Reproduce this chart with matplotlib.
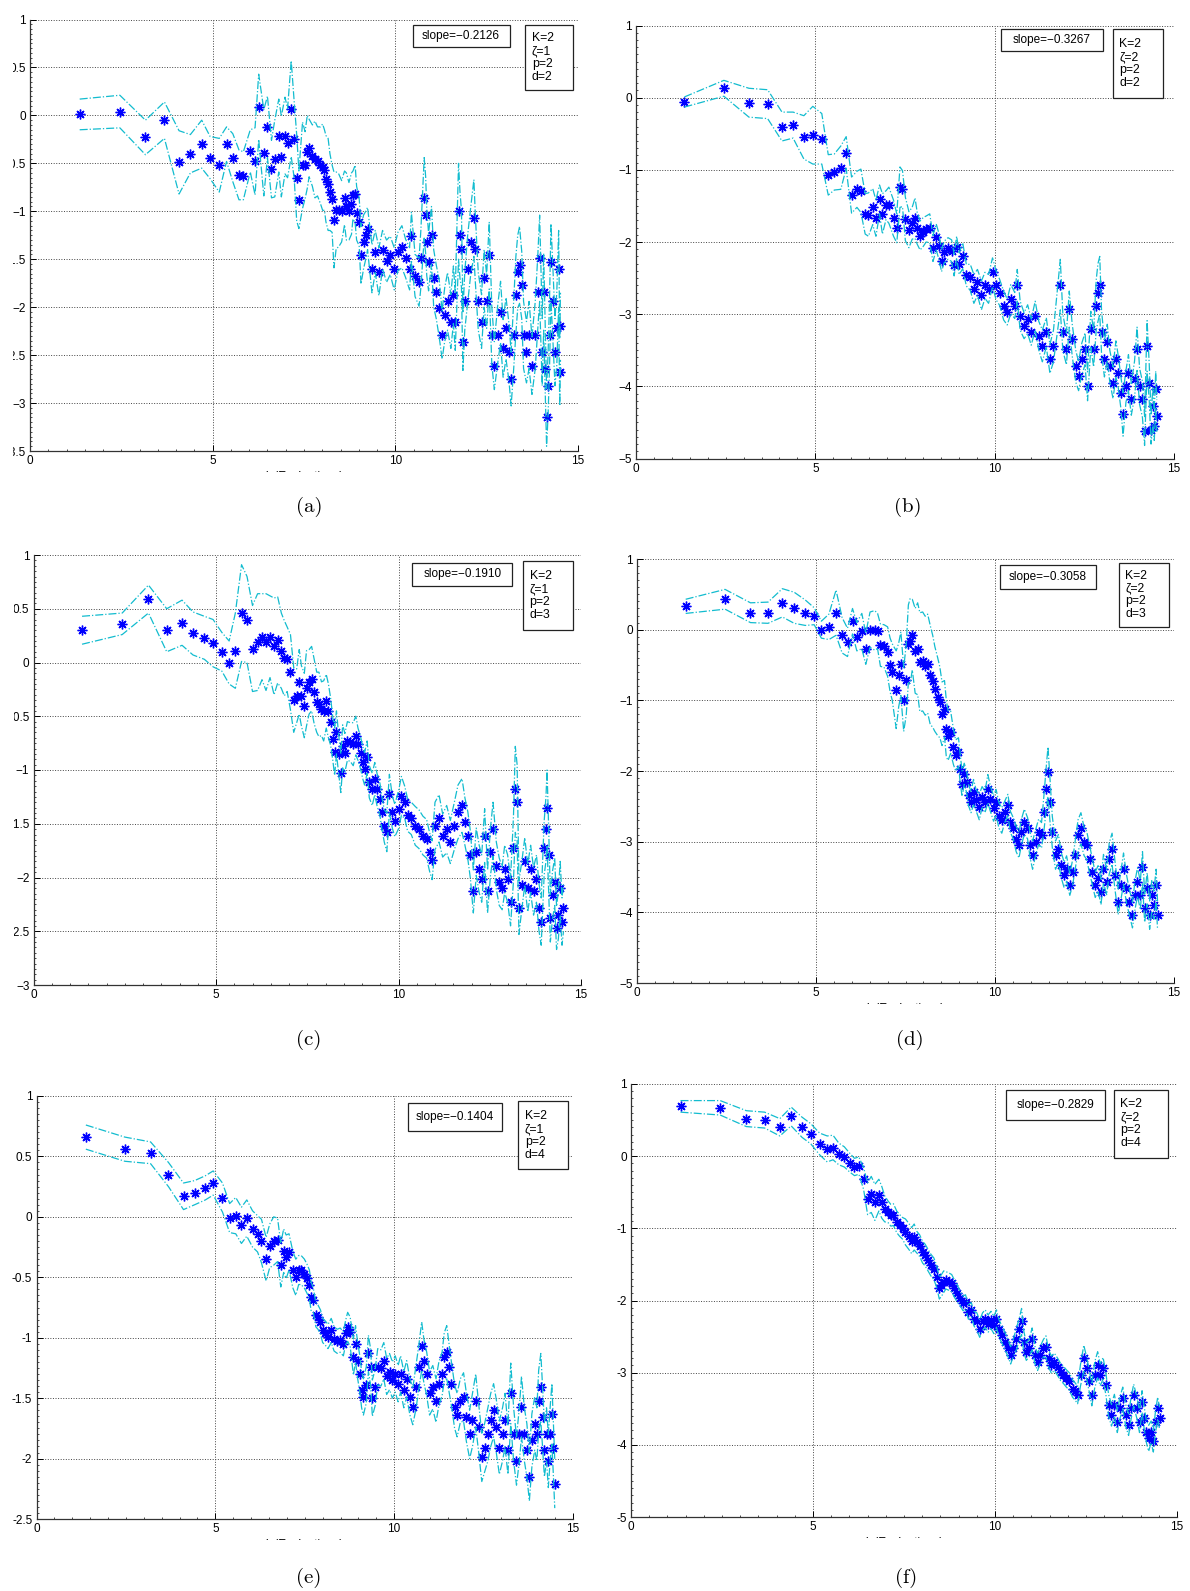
# %%
import numpy as np
import matplotlib
matplotlib.use('Agg')
import matplotlib.pyplot as plt
from matplotlib.patches import Rectangle
from matplotlib.ticker import MultipleLocator, AutoMinorLocator, FuncFormatter

plt.rcParams['font.family'] = ['Liberation Sans', 'DejaVu Sans']

# %% data: x = ln(Evaluations), y = mean, e = half-width of band
xa = [1.36, 2.46, 3.16, 3.68, 4.08, 4.39, 4.70, 4.93, 5.18, 5.38,
      5.55, 5.72, 5.84, 6.03, 6.16, 6.26, 6.40, 6.50, 6.61, 6.70,
      6.81, 6.88, 6.98, 7.05, 7.15, 7.23, 7.30, 7.36, 7.46, 7.53,
      7.59, 7.64, 7.73, 7.80, 7.87, 7.95, 8.01, 8.06, 8.10, 8.16,
      8.21, 8.27, 8.32, 8.38, 8.45, 8.53, 8.61, 8.66, 8.73, 8.80,
      8.84, 8.90, 8.94, 9.01, 9.06, 9.13, 9.19, 9.24, 9.36, 9.45,
      9.55, 9.65, 9.76, 9.86, 9.97, 10.07, 10.18, 10.28, 10.39, 10.44,
      10.54, 10.65, 10.70, 10.79, 10.83, 10.86, 10.91, 10.99, 11.05, 11.12,
      11.20, 11.28, 11.35, 11.43, 11.52, 11.59, 11.64, 11.73, 11.77, 11.81,
      11.85, 11.90, 11.98, 12.06, 12.15, 12.19, 12.27, 12.36, 12.43, 12.50,
      12.57, 12.64, 12.71, 12.80, 12.88, 12.95, 13.03, 13.11, 13.17, 13.24,
      13.30, 13.35, 13.40, 13.46, 13.51, 13.59, 13.66, 13.74, 13.83, 13.90,
      13.95, 14.02, 14.06, 14.11, 14.14, 14.18, 14.22, 14.26, 14.31, 14.37,
      14.42, 14.47, 14.50, 14.52]
ya = [0.01, 0.04, -0.23, -0.05, -0.49, -0.40, -0.30, -0.44, -0.52, -0.30,
      -0.44, -0.62, -0.63, -0.37, -0.48, 0.09, -0.39, -0.12, -0.56, -0.45,
      -0.21, -0.43, -0.21, -0.29, 0.07, -0.25, -0.65, -0.88, -0.52, -0.52,
      -0.38, -0.34, -0.42, -0.46, -0.48, -0.52, -0.54, -0.57, -0.66, -0.72,
      -0.80, -0.87, -1.09, -0.99, -0.99, -1.00, -0.86, -0.95, -1.00, -0.92,
      -0.83, -0.82, -1.02, -1.11, -1.46, -1.32, -1.25, -1.18, -1.60, -1.42,
      -1.63, -1.40, -1.52, -1.46, -1.60, -1.42, -1.37, -1.49, -1.60, -1.26,
      -1.67, -1.74, -1.49, -0.86, -1.04, -1.32, -1.53, -1.25, -1.70, -1.84,
      -2.01, -2.29, -2.08, -1.94, -2.15, -1.87, -2.15, -1.00, -1.25, -1.39,
      -2.36, -1.94, -1.60, -1.32, -1.07, -1.39, -1.94, -2.15, -1.70, -1.94,
      -1.46, -2.29, -2.61, -2.29, -2.05, -2.43, -2.22, -2.47, -2.75, -2.29,
      -1.87, -1.63, -1.56, -1.77, -2.29, -2.47, -2.29, -2.61, -2.29, -1.84,
      -1.49, -2.47, -1.84, -2.64, -3.15, -2.82, -2.29, -1.53, -1.94, -2.47,
      -2.22, -1.60, -2.68, -2.20]
ea = [0.16, 0.17, 0.18, 0.19, 0.33, 0.20, 0.25, 0.22, 0.28, 0.18,
      0.25, 0.26, 0.25, 0.22, 0.35, 0.34, 0.45, 0.32, 0.30, 0.40,
      0.38, 0.42, 0.40, 0.36, 0.50, 0.40, 0.45, 0.30, 0.45, 0.35,
      0.38, 0.30, 0.32, 0.40, 0.36, 0.40, 0.45, 0.42, 0.45, 0.48,
      0.40, 0.35, 0.50, 0.40, 0.38, 0.32, 0.28, 0.35, 0.30, 0.32,
      0.25, 0.30, 0.28, 0.25, 0.30, 0.28, 0.25, 0.22, 0.25, 0.22,
      0.25, 0.20, 0.22, 0.20, 0.22, 0.20, 0.22, 0.20, 0.22, 0.25,
      0.22, 0.25, 0.30, 0.42, 0.40, 0.35, 0.30, 0.30, 0.30, 0.28,
      0.30, 0.25, 0.28, 0.30, 0.28, 0.30, 0.30, 0.50, 0.45, 0.40,
      0.30, 0.30, 0.35, 0.35, 0.40, 0.35, 0.30, 0.28, 0.30, 0.28,
      0.35, 0.30, 0.25, 0.30, 0.32, 0.30, 0.32, 0.30, 0.28, 0.35,
      0.40, 0.38, 0.40, 0.35, 0.35, 0.32, 0.35, 0.30, 0.35, 0.38,
      0.45, 0.35, 0.40, 0.35, 0.30, 0.32, 0.35, 0.40, 0.38, 0.35,
      0.38, 0.40, 0.35, 0.35]

xb = [1.35, 2.45, 3.15, 3.67, 4.07, 4.38, 4.68, 4.93, 5.18, 5.36,
      5.53, 5.71, 5.86, 6.01, 6.16, 6.27, 6.39, 6.48, 6.60, 6.69,
      6.79, 6.87, 6.97, 7.05, 7.18, 7.27, 7.36, 7.43, 7.51, 7.61,
      7.70, 7.78, 7.84, 7.92, 8.01, 8.09, 8.19, 8.28, 8.37, 8.44,
      8.52, 8.59, 8.70, 8.80, 8.87, 8.94, 9.01, 9.11, 9.21, 9.32,
      9.42, 9.52, 9.63, 9.73, 9.83, 9.94, 10.04, 10.14, 10.25, 10.35,
      10.45, 10.56, 10.63, 10.71, 10.82, 10.92, 11.02, 11.13, 11.23, 11.33,
      11.44, 11.54, 11.64, 11.83, 11.90, 12.00, 12.08, 12.16, 12.26, 12.34,
      12.43, 12.52, 12.59, 12.68, 12.76, 12.83, 12.88, 12.93, 12.98, 13.06,
      13.14, 13.21, 13.30, 13.38, 13.45, 13.52, 13.58, 13.66, 13.73, 13.81,
      13.90, 13.97, 14.04, 14.12, 14.18, 14.25, 14.31, 14.36, 14.41, 14.45,
      14.49, 14.52]
yb = [-0.06, 0.13, -0.07, -0.09, -0.40, -0.38, -0.55, -0.52, -0.57, -1.07,
      -1.03, -0.97, -0.76, -1.35, -1.27, -1.29, -1.61, -1.62, -1.51, -1.67,
      -1.41, -1.61, -1.49, -1.49, -1.67, -1.81, -1.24, -1.26, -1.68, -1.83,
      -1.74, -1.67, -1.81, -1.91, -1.86, -1.82, -1.81, -2.09, -1.93, -2.05,
      -2.26, -2.14, -2.09, -2.12, -2.32, -2.07, -2.30, -2.19, -2.46, -2.49,
      -2.65, -2.56, -2.74, -2.60, -2.65, -2.42, -2.60, -2.70, -2.88, -2.97,
      -2.79, -2.88, -2.60, -3.02, -3.16, -3.07, -3.25, -3.02, -3.30, -3.44,
      -3.25, -3.62, -3.44, -2.59, -3.25, -3.48, -2.93, -3.35, -3.72, -3.86,
      -3.62, -3.48, -4.00, -3.21, -3.48, -2.88, -2.70, -2.60, -3.25, -3.62,
      -3.39, -3.72, -3.95, -3.62, -3.81, -4.09, -4.39, -4.00, -3.81, -4.18,
      -3.90, -3.48, -4.00, -4.18, -4.62, -3.44, -3.95, -4.60, -4.27, -4.55,
      -4.04, -4.41]
eb = [0.07, 0.11, 0.20, 0.20, 0.20, 0.18, 0.30, 0.40, 0.35, 0.28,
      0.25, 0.30, 0.22, 0.25, 0.25, 0.30, 0.28, 0.30, 0.25, 0.25,
      0.20, 0.28, 0.20, 0.25, 0.25, 0.20, 0.28, 0.25, 0.30, 0.25,
      0.22, 0.28, 0.22, 0.20, 0.20, 0.18, 0.20, 0.18, 0.18, 0.18,
      0.15, 0.15, 0.15, 0.15, 0.15, 0.15, 0.15, 0.18, 0.15, 0.18,
      0.20, 0.18, 0.20, 0.18, 0.20, 0.20, 0.20, 0.18, 0.20, 0.18,
      0.20, 0.18, 0.22, 0.20, 0.18, 0.20, 0.18, 0.20, 0.20, 0.22,
      0.20, 0.20, 0.22, 0.35, 0.25, 0.22, 0.25, 0.22, 0.22, 0.20,
      0.22, 0.22, 0.20, 0.25, 0.25, 0.35, 0.40, 0.40, 0.30, 0.25,
      0.25, 0.22, 0.22, 0.25, 0.22, 0.22, 0.30, 0.22, 0.25, 0.22,
      0.25, 0.30, 0.25, 0.25, 0.20, 0.35, 0.25, 0.20, 0.25, 0.20,
      0.25, 0.22]

xc = [1.33, 2.43, 3.15, 3.65, 4.07, 4.37, 4.68, 4.92, 5.16, 5.36,
      5.53, 5.70, 5.85, 6.00, 6.14, 6.26, 6.37, 6.48, 6.59, 6.69,
      6.79, 6.87, 6.95, 7.04, 7.13, 7.21, 7.28, 7.34, 7.42, 7.48,
      7.55, 7.62, 7.69, 7.76, 7.82, 7.89, 7.95, 8.02, 8.08, 8.14,
      8.20, 8.25, 8.30, 8.36, 8.42, 8.47, 8.53, 8.60, 8.68, 8.76,
      8.83, 8.89, 8.96, 9.02, 9.07, 9.14, 9.20, 9.28, 9.35, 9.41,
      9.49, 9.54, 9.61, 9.68, 9.75, 9.83, 9.90, 10.01, 10.08, 10.17,
      10.25, 10.35, 10.46, 10.56, 10.67, 10.77, 10.85, 10.92, 11.00, 11.11,
      11.21, 11.32, 11.42, 11.53, 11.63, 11.74, 11.82, 11.90, 11.97, 12.05,
      12.13, 12.21, 12.28, 12.36, 12.44, 12.52, 12.59, 12.68, 12.76, 12.84,
      12.91, 12.99, 13.07, 13.15, 13.20, 13.25, 13.30, 13.38, 13.46, 13.54,
      13.62, 13.70, 13.78, 13.85, 13.91, 13.99, 14.04, 14.07, 14.11, 14.16,
      14.22, 14.28, 14.33, 14.38, 14.43, 14.48, 14.52]
yc = [0.30, 0.36, 0.59, 0.30, 0.37, 0.27, 0.23, 0.18, 0.10, 0.00,
      0.11, 0.46, 0.40, 0.13, 0.19, 0.24, 0.19, 0.24, 0.15, 0.21,
      0.11, 0.04, 0.03, -0.09, -0.35, -0.31, -0.18, -0.31, -0.40, -0.24,
      -0.18, -0.15, -0.27, -0.37, -0.39, -0.43, -0.45, -0.36, -0.45, -0.55,
      -0.71, -0.83, -0.65, -0.85, -1.03, -0.78, -0.84, -0.73, -0.74, -0.76,
      -0.68, -0.76, -0.84, -0.93, -0.99, -0.88, -1.11, -1.18, -1.08, -1.18,
      -1.27, -1.39, -1.52, -1.58, -1.22, -1.39, -1.47, -1.36, -1.24, -1.30,
      -1.42, -1.45, -1.52, -1.55, -1.61, -1.64, -1.76, -1.84, -1.52, -1.45,
      -1.61, -1.55, -1.67, -1.52, -1.39, -1.33, -1.48, -1.61, -1.79, -2.13,
      -1.76, -1.92, -2.01, -1.61, -2.13, -1.76, -1.55, -1.89, -2.04, -2.10,
      -1.92, -2.01, -2.23, -1.73, -1.18, -1.30, -2.28, -2.07, -1.85, -2.10,
      -1.92, -2.13, -2.01, -2.28, -2.41, -1.73, -1.55, -1.35, -1.79, -2.38,
      -2.16, -2.04, -2.47, -2.35, -2.10, -2.41, -2.28]
ec = [0.13, 0.10, 0.13, 0.20, 0.21, 0.20, 0.20, 0.22, 0.18, 0.20,
      0.35, 0.45, 0.40, 0.40, 0.45, 0.40, 0.45, 0.38, 0.45, 0.40,
      0.35, 0.35, 0.30, 0.35, 0.30, 0.25, 0.30, 0.28, 0.30, 0.35,
      0.30, 0.30, 0.30, 0.28, 0.30, 0.25, 0.28, 0.25, 0.25, 0.22,
      0.20, 0.22, 0.20, 0.18, 0.18, 0.20, 0.18, 0.18, 0.18, 0.20,
      0.18, 0.15, 0.15, 0.15, 0.15, 0.15, 0.15, 0.15, 0.15, 0.15,
      0.15, 0.15, 0.15, 0.18, 0.18, 0.15, 0.15, 0.18, 0.18, 0.15,
      0.15, 0.15, 0.18, 0.18, 0.18, 0.18, 0.18, 0.18, 0.22, 0.22,
      0.20, 0.22, 0.20, 0.22, 0.25, 0.25, 0.22, 0.22, 0.22, 0.20,
      0.22, 0.22, 0.22, 0.25, 0.20, 0.22, 0.25, 0.22, 0.22, 0.20,
      0.22, 0.22, 0.22, 0.30, 0.40, 0.35, 0.25, 0.22, 0.22, 0.22,
      0.22, 0.22, 0.22, 0.22, 0.22, 0.25, 0.30, 0.35, 0.30, 0.22,
      0.22, 0.22, 0.20, 0.22, 0.25, 0.22, 0.22]

xd = [1.36, 2.46, 3.17, 3.66, 4.06, 4.39, 4.70, 4.95, 5.15, 5.36,
      5.56, 5.73, 5.88, 6.02, 6.14, 6.28, 6.39, 6.51, 6.64, 6.72,
      6.80, 6.90, 7.00, 7.07, 7.13, 7.24, 7.31, 7.37, 7.45, 7.52,
      7.58, 7.63, 7.69, 7.77, 7.84, 7.90, 7.98, 8.05, 8.12, 8.19,
      8.26, 8.32, 8.40, 8.46, 8.52, 8.59, 8.64, 8.69, 8.76, 8.84,
      8.90, 8.98, 9.03, 9.08, 9.14, 9.21, 9.26, 9.33, 9.40, 9.47,
      9.56, 9.64, 9.72, 9.80, 9.87, 9.96, 10.03, 10.11, 10.19, 10.27,
      10.36, 10.43, 10.51, 10.59, 10.67, 10.74, 10.82, 10.91, 10.98, 11.05,
      11.14, 11.22, 11.30, 11.37, 11.43, 11.48, 11.54, 11.60, 11.69, 11.77,
      11.85, 11.93, 12.00, 12.09, 12.17, 12.24, 12.32, 12.40, 12.49, 12.56,
      12.64, 12.72, 12.80, 12.88, 12.96, 13.03, 13.12, 13.19, 13.27, 13.35,
      13.44, 13.52, 13.59, 13.67, 13.75, 13.84, 13.91, 13.98, 14.06, 14.12,
      14.18, 14.25, 14.32, 14.38, 14.44, 14.50, 14.54]
yd = [0.33, 0.43, 0.24, 0.24, 0.38, 0.31, 0.24, 0.19, 0.00, 0.04,
      0.24, -0.08, -0.18, 0.12, -0.10, -0.02, -0.27, 0.00, -0.01, -0.02,
      -0.22, -0.23, -0.31, -0.50, -0.60, -0.85, -0.64, -0.48, -0.99, -0.71,
      -0.20, -0.16, -0.07, -0.30, -0.27, -0.46, -0.45, -0.51, -0.48, -0.64,
      -0.73, -0.84, -0.95, -1.03, -1.19, -1.12, -1.40, -1.50, -1.45, -1.66,
      -1.78, -1.73, -1.97, -2.18, -2.04, -2.16, -2.34, -2.44, -2.30, -2.41,
      -2.51, -2.37, -2.44, -2.25, -2.39, -2.53, -2.44, -2.63, -2.70, -2.58,
      -2.48, -2.72, -2.81, -2.96, -3.05, -2.86, -2.72, -2.81, -3.05, -3.19,
      -3.00, -2.86, -2.91, -2.58, -2.25, -2.01, -2.44, -2.86, -3.19, -3.10,
      -3.33, -3.47, -3.38, -3.61, -3.43, -3.19, -2.91, -2.81, -3.00, -3.05,
      -3.24, -3.43, -3.61, -3.52, -3.71, -3.38, -3.57, -3.24, -3.10, -3.47,
      -3.85, -3.61, -3.38, -3.66, -3.85, -4.04, -3.76, -3.57, -3.76, -3.36,
      -3.94, -3.66, -4.04, -3.76, -3.90, -3.61, -4.04]
ed = [0.10, 0.14, 0.14, 0.15, 0.20, 0.22, 0.18, 0.12, 0.12, 0.18,
      0.32, 0.25, 0.20, 0.18, 0.20, 0.25, 0.22, 0.25, 0.28, 0.25,
      0.30, 0.30, 0.35, 0.38, 0.40, 0.55, 0.45, 0.45, 0.45, 0.50,
      0.55, 0.60, 0.50, 0.60, 0.65, 0.70, 0.70, 0.70, 0.70, 0.70,
      0.65, 0.60, 0.55, 0.50, 0.45, 0.40, 0.40, 0.35, 0.30, 0.25,
      0.22, 0.20, 0.20, 0.18, 0.15, 0.15, 0.15, 0.15, 0.18, 0.15,
      0.18, 0.15, 0.15, 0.20, 0.18, 0.18, 0.18, 0.18, 0.18, 0.15,
      0.15, 0.15, 0.15, 0.18, 0.18, 0.18, 0.18, 0.15, 0.18, 0.20,
      0.18, 0.18, 0.18, 0.25, 0.30, 0.35, 0.30, 0.22, 0.20, 0.20,
      0.18, 0.18, 0.18, 0.15, 0.18, 0.20, 0.22, 0.22, 0.20, 0.20,
      0.20, 0.18, 0.18, 0.18, 0.18, 0.20, 0.18, 0.22, 0.22, 0.20,
      0.18, 0.20, 0.22, 0.20, 0.18, 0.18, 0.20, 0.20, 0.20, 0.22,
      0.20, 0.22, 0.20, 0.22, 0.20, 0.22, 0.20]

xe = [1.38, 2.47, 3.19, 3.69, 4.11, 4.42, 4.72, 4.94, 5.20, 5.40,
      5.57, 5.73, 5.88, 6.04, 6.18, 6.29, 6.42, 6.52, 6.63, 6.74,
      6.83, 6.91, 6.98, 7.06, 7.17, 7.25, 7.33, 7.40, 7.49, 7.56,
      7.63, 7.68, 7.74, 7.81, 7.87, 7.94, 8.00, 8.07, 8.15, 8.24,
      8.32, 8.41, 8.49, 8.58, 8.64, 8.70, 8.77, 8.86, 8.92, 8.98,
      9.04, 9.09, 9.14, 9.22, 9.28, 9.34, 9.39, 9.47, 9.54, 9.63,
      9.71, 9.79, 9.87, 9.95, 10.03, 10.11, 10.18, 10.27, 10.35, 10.44,
      10.52, 10.61, 10.69, 10.77, 10.83, 10.91, 10.99, 11.08, 11.17, 11.25,
      11.34, 11.40, 11.47, 11.53, 11.60, 11.69, 11.76, 11.85, 11.94, 12.02,
      12.11, 12.19, 12.28, 12.36, 12.45, 12.53, 12.62, 12.70, 12.78, 12.86,
      12.94, 13.03, 13.10, 13.18, 13.26, 13.34, 13.42, 13.50, 13.56, 13.64,
      13.71, 13.78, 13.85, 13.93, 13.99, 14.04, 14.10, 14.15, 14.20, 14.26,
      14.31, 14.36, 14.41, 14.45, 14.49]
ye = [0.66, 0.56, 0.53, 0.35, 0.17, 0.20, 0.24, 0.28, 0.16, -0.01,
      0.01, -0.07, -0.01, -0.10, -0.14, -0.20, -0.35, -0.24, -0.20, -0.19,
      -0.40, -0.28, -0.33, -0.29, -0.44, -0.50, -0.44, -0.44, -0.47, -0.51,
      -0.56, -0.66, -0.69, -0.81, -0.83, -0.87, -0.94, -0.96, -0.99, -0.94,
      -1.01, -1.03, -1.02, -1.05, -0.96, -0.91, -0.95, -1.16, -1.05, -1.19,
      -1.30, -1.43, -1.49, -1.39, -1.13, -1.24, -1.50, -1.41, -1.24, -1.25,
      -1.19, -1.32, -1.28, -1.35, -1.30, -1.38, -1.30, -1.43, -1.34, -1.49,
      -1.57, -1.41, -1.24, -1.07, -1.19, -1.30, -1.46, -1.41, -1.52, -1.38,
      -1.30, -1.16, -1.12, -1.24, -1.38, -1.57, -1.64, -1.52, -1.49, -1.66,
      -1.80, -1.68, -1.52, -1.74, -1.99, -1.91, -1.80, -1.68, -1.60, -1.74,
      -1.91, -1.80, -1.68, -1.93, -1.46, -1.80, -2.02, -1.80, -1.57, -1.80,
      -1.93, -2.15, -1.85, -1.71, -1.80, -1.52, -1.41, -1.66, -1.93, -1.80,
      -2.02, -1.80, -1.63, -1.91, -2.21]
ee = [0.10, 0.10, 0.09, 0.10, 0.11, 0.10, 0.10, 0.10, 0.12, 0.12,
      0.15, 0.15, 0.15, 0.15, 0.15, 0.18, 0.18, 0.18, 0.20, 0.18,
      0.18, 0.18, 0.18, 0.15, 0.15, 0.15, 0.12, 0.12, 0.12, 0.12,
      0.12, 0.12, 0.10, 0.10, 0.10, 0.10, 0.10, 0.10, 0.10, 0.10,
      0.10, 0.10, 0.10, 0.10, 0.10, 0.12, 0.12, 0.15, 0.15, 0.15,
      0.15, 0.15, 0.15, 0.15, 0.15, 0.15, 0.15, 0.15, 0.15, 0.15,
      0.15, 0.15, 0.15, 0.15, 0.15, 0.15, 0.15, 0.15, 0.15, 0.15,
      0.15, 0.18, 0.18, 0.20, 0.18, 0.18, 0.18, 0.18, 0.18, 0.18,
      0.18, 0.20, 0.22, 0.20, 0.18, 0.18, 0.18, 0.18, 0.20, 0.20,
      0.20, 0.22, 0.22, 0.20, 0.20, 0.20, 0.22, 0.22, 0.22, 0.22,
      0.22, 0.22, 0.22, 0.20, 0.25, 0.22, 0.20, 0.22, 0.25, 0.22,
      0.22, 0.20, 0.22, 0.22, 0.22, 0.25, 0.28, 0.25, 0.22, 0.22,
      0.22, 0.22, 0.25, 0.22, 0.20]

xf = [1.36, 2.45, 3.17, 3.67, 4.09, 4.40, 4.70, 4.94, 5.18, 5.39,
      5.55, 5.71, 5.86, 6.01, 6.14, 6.26, 6.39, 6.50, 6.60, 6.70,
      6.81, 6.89, 6.97, 7.06, 7.14, 7.21, 7.30, 7.38, 7.46, 7.54,
      7.63, 7.71, 7.78, 7.85, 7.93, 8.01, 8.08, 8.16, 8.24, 8.32,
      8.40, 8.47, 8.53, 8.59, 8.65, 8.74, 8.81, 8.88, 8.96, 9.04,
      9.12, 9.19, 9.27, 9.35, 9.42, 9.50, 9.58, 9.66, 9.73, 9.81,
      9.89, 9.97, 10.04, 10.11, 10.20, 10.28, 10.36, 10.43, 10.50, 10.59,
      10.67, 10.73, 10.79, 10.86, 10.94, 11.02, 11.10, 11.17, 11.24, 11.33,
      11.40, 11.47, 11.55, 11.63, 11.72, 11.80, 11.88, 11.96, 12.04, 12.13,
      12.20, 12.27, 12.35, 12.44, 12.52, 12.59, 12.66, 12.74, 12.82, 12.89,
      12.97, 13.05, 13.12, 13.20, 13.28, 13.36, 13.43, 13.51, 13.59, 13.67,
      13.74, 13.81, 13.90, 13.97, 14.04, 14.10, 14.16, 14.22, 14.29, 14.35,
      14.41, 14.47, 14.52]
yf = [0.69, 0.67, 0.52, 0.50, 0.40, 0.55, 0.40, 0.31, 0.17, 0.10,
      0.12, 0.03, -0.01, -0.09, -0.15, -0.13, -0.31, -0.59, -0.53, -0.64,
      -0.54, -0.64, -0.73, -0.77, -0.82, -0.81, -0.91, -0.96, -1.00, -1.05,
      -1.11, -1.17, -1.12, -1.19, -1.24, -1.33, -1.37, -1.44, -1.51, -1.56,
      -1.67, -1.83, -1.79, -1.74, -1.72, -1.74, -1.76, -1.83, -1.90, -1.97,
      -2.04, -2.02, -2.16, -2.13, -2.25, -2.29, -2.39, -2.29, -2.25, -2.32,
      -2.27, -2.34, -2.25, -2.39, -2.48, -2.57, -2.66, -2.76, -2.66, -2.53,
      -2.39, -2.29, -2.57, -2.71, -2.66, -2.53, -2.76, -2.85, -2.76, -2.66,
      -2.64, -2.80, -2.89, -2.85, -2.92, -2.99, -3.03, -3.08, -3.12, -3.22,
      -3.26, -3.31, -3.03, -2.80, -2.94, -3.12, -3.31, -3.03, -2.89, -3.03,
      -2.94, -3.17, -3.45, -3.59, -3.45, -3.68, -3.49, -3.35, -3.59, -3.72,
      -3.49, -3.31, -3.49, -3.68, -3.40, -3.63, -3.82, -3.91, -3.82, -3.95,
      -3.68, -3.49, -3.63]
ef = [0.08, 0.10, 0.11, 0.11, 0.12, 0.13, 0.14, 0.14, 0.15, 0.18,
      0.17, 0.15, 0.14, 0.13, 0.12, 0.12, 0.15, 0.22, 0.25, 0.25,
      0.22, 0.22, 0.18, 0.15, 0.15, 0.15, 0.15, 0.15, 0.15, 0.18,
      0.18, 0.18, 0.18, 0.15, 0.15, 0.15, 0.15, 0.15, 0.15, 0.15,
      0.15, 0.15, 0.15, 0.15, 0.12, 0.12, 0.12, 0.12, 0.12, 0.10,
      0.10, 0.10, 0.10, 0.10, 0.10, 0.12, 0.12, 0.12, 0.12, 0.12,
      0.12, 0.12, 0.12, 0.12, 0.12, 0.12, 0.12, 0.12, 0.12, 0.15,
      0.15, 0.18, 0.15, 0.12, 0.12, 0.15, 0.12, 0.12, 0.12, 0.12,
      0.15, 0.12, 0.12, 0.12, 0.12, 0.12, 0.12, 0.12, 0.12, 0.12,
      0.12, 0.12, 0.15, 0.18, 0.15, 0.15, 0.15, 0.18, 0.18, 0.15,
      0.15, 0.15, 0.15, 0.15, 0.15, 0.15, 0.15, 0.15, 0.15, 0.15,
      0.15, 0.15, 0.15, 0.15, 0.15, 0.15, 0.15, 0.18, 0.15, 0.15,
      0.15, 0.15, 0.15]

slopes = ['-0.2126', '-0.3267', '-0.1910', '-0.3058', '-0.1404', '-0.2829']
zetas = [1, 2, 1, 2, 1, 2]
dims = [2, 2, 3, 3, 4, 4]
tags = ['(a)', '(b)', '(c)', '(d)', '(e)', '(f)']
ylims = [(-3.5, 1), (-5, 1), (-3, 1), (-5, 1), (-2.5, 1), (-5, 1)]
ysteps = [0.5, 1, 0.5, 1, 0.5, 1]

# %% layout (pixels of the 1190x1591 page)
W, H = 1190, 1591
rects = [(30, 19.5, 578, 451), (636, 25.5, 1174, 458.5),
         (33.5, 555, 581, 985), (637, 559, 1174, 983),
         (36.5, 1096, 573, 1519), (631, 1084, 1177, 1517)]
caps = [(309, 507), (908, 507), (309, 1040), (910, 1040), (309, 1578), (906, 1578)]
sboxes = [(0.698, 0.875, 0.937, 0.988), (0.678, 0.868, 0.940, 0.991),
          (0.692, 0.874, 0.928, 0.982), (0.676, 0.854, 0.929, 0.986),
          (0.692, 0.867, 0.917, 0.984), (0.686, 0.868, 0.918, 0.985)]
pboxes = [(0.904, 0.990, 0.836, 0.988), (0.886, 0.979, 0.833, 0.991),
          (0.894, 0.986, 0.826, 0.986), (0.897, 0.990, 0.839, 0.991),
          (0.898, 0.990, 0.827, 0.987), (0.884, 0.984, 0.829, 0.987)]
cuts = [21, 21, 17, 21, 21, 21]
lcrop = [12.5, 0, 14, 0, 12, 0]   # the page is cropped left of these x (px)

series = [(xa, ya, ea), (xb, yb, eb), (xc, yc, ec), (xd, yd, ed), (xe, ye, ee), (xf, yf, ef)]
cyan = '#12bccf'

fig = plt.figure(figsize=(W / 100, H / 100), dpi=100)

for i, (x, y, e) in enumerate(series):
    l, t, r, b = rects[i]
    ax = fig.add_axes([l / W, 1 - b / H, (r - l) / W, (b - t) / H])
    x = np.array(x); y = np.array(y); e = np.array(e)

    ax.plot(x, y, linestyle='none', marker=(8, 2, 0), markersize=7,
            markeredgewidth=1.0, color='#0000ff', zorder=2)
    ax.plot(x, y + e, linestyle='-.', color=cyan, linewidth=0.9, zorder=3)
    ax.plot(x, y - e, linestyle='-.', color=cyan, linewidth=0.9, zorder=3)

    ax.set_xlim(0, 15)
    ax.set_ylim(*ylims[i])
    ax.xaxis.set_major_locator(MultipleLocator(5))
    ax.yaxis.set_major_locator(MultipleLocator(ysteps[i]))
    ax.xaxis.set_minor_locator(AutoMinorLocator(10))
    ax.yaxis.set_minor_locator(AutoMinorLocator(10))
    if i < 4:
        ax.yaxis.set_major_formatter(FuncFormatter(lambda v, p: f"{round(v, 2) + 0.0:g}".replace('-', '\u2212')))
    else:
        ax.yaxis.set_major_formatter(FuncFormatter(lambda v, p: f"{round(v, 2) + 0.0:g}"))
    ax.xaxis.set_major_formatter(FuncFormatter(lambda v, p: f"{v:g}"))

    ax.grid(True, which='major', linestyle=':', color='#444444', linewidth=0.7)
    ax.set_axisbelow(True)
    for s in ['top', 'right']:
        ax.spines[s].set_visible(False)
    for s in ['left', 'bottom']:
        ax.spines[s].set_linewidth(0.9)
        ax.spines[s].set_color('#333333')
    ax.tick_params(which='major', direction='in', length=4, width=0.7, labelsize=8.5, pad=3)
    ax.tick_params(which='minor', direction='in', length=1.5, width=0.5)
    ax.set_xlabel('ln(Evaluations)', fontsize=8.5, labelpad=3)

    # text boxes
    x0, x1, y0, y1 = sboxes[i]
    ax.add_patch(Rectangle((x0, y0), x1 - x0, y1 - y0, transform=ax.transAxes,
                           facecolor='white', edgecolor='#222222', linewidth=0.9, zorder=5))
    ax.text((x0 + x1) / 2, (y0 + y1) / 2, 'slope=' + slopes[i].replace('-', '\u2212'),
            transform=ax.transAxes, ha='center', va='center', fontsize=8.5, zorder=6)
    x0, x1, y0, y1 = pboxes[i]
    ax.add_patch(Rectangle((x0, y0), x1 - x0, y1 - y0, transform=ax.transAxes,
                           facecolor='white', edgecolor='#222222', linewidth=0.9, zorder=5))
    ax.text(x0 + 0.012, (y0 + y1) / 2, f"K=2\n\u03b6={zetas[i]}\np=2\nd={dims[i]}",
            transform=ax.transAxes, ha='left', va='center', fontsize=8.8,
            linespacing=1.1, zorder=6)

    # the page crops the axis label, only its top is seen
    fig.add_artist(Rectangle((l / W, 1 - (b + cuts[i] + 18) / H), (r - l) / W, 18 / H,
                             transform=fig.transFigure, facecolor='white',
                             edgecolor='none', zorder=10))
    if lcrop[i] > 0:
        fig.add_artist(Rectangle((0, 1 - (b + 20) / H), lcrop[i] / W, (b - t + 40) / H,
                                 transform=fig.transFigure, facecolor='white',
                                 edgecolor='none', zorder=10))

    cx, cy = caps[i]
    fig.text(cx / W, 1 - cy / H, tags[i], fontfamily='cmr10', fontsize=15,
             ha='center', va='center')

fig.savefig('out.png', dpi=100)
